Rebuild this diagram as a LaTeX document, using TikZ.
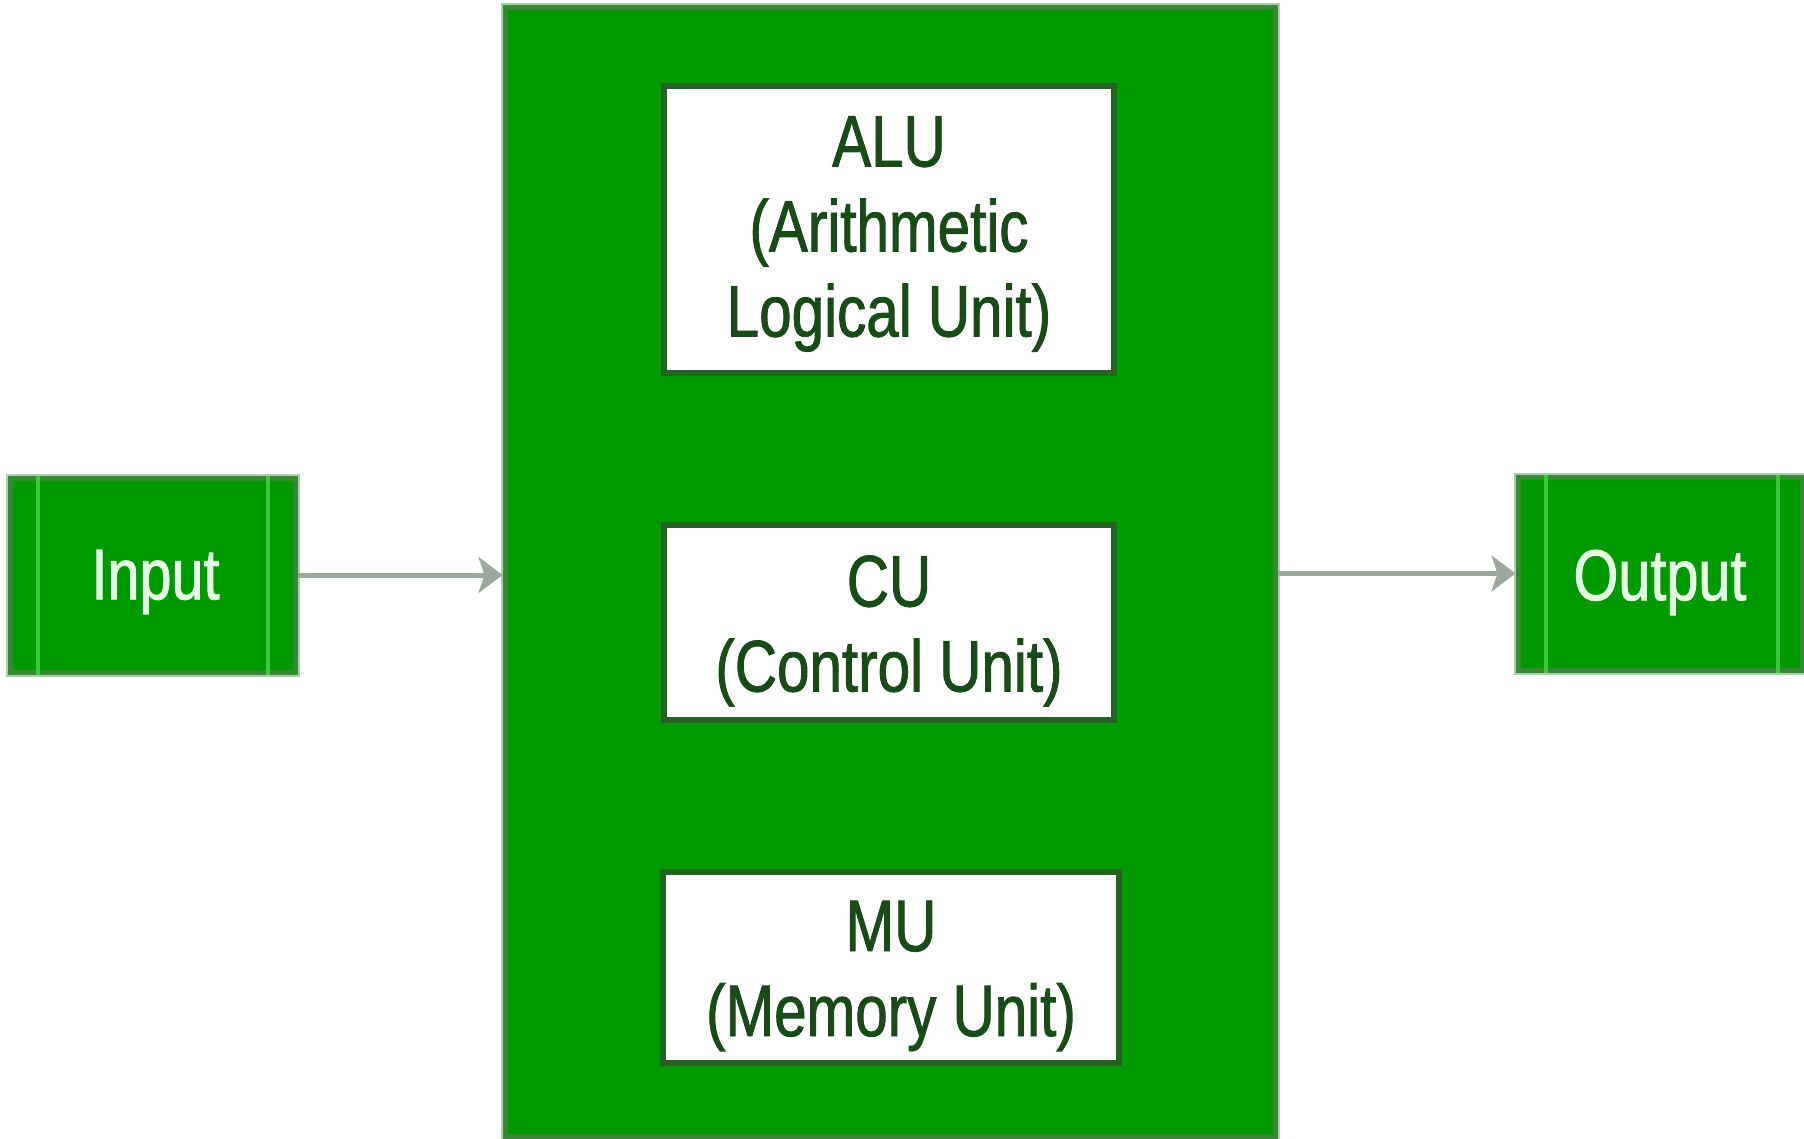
\documentclass[tikz,border=0pt]{standalone}
\usepackage{fontspec}
\newfontfamily\narrowsans[FakeStretch=0.8, FakeBold=1.2]{Liberation Sans}
\usetikzlibrary{arrows.meta}
\definecolor{cpugreen}{RGB}{0,153,0}
\definecolor{edgegreen}{RGB}{55,135,55}
\definecolor{halogreen}{RGB}{165,212,165}
\definecolor{darkedge}{RGB}{35,100,35}
\definecolor{sidegreen}{RGB}{60,200,60}
\definecolor{unittextcol}{RGB}{25,75,25}
\definecolor{iotextcol}{RGB}{228,255,228}
\definecolor{arrowgray}{RGB}{155,168,155}
\tikzset{
  cpubox/.style={rectangle, fill=cpugreen, draw=edgegreen, line width=5pt,
    preaction={draw=halogreen, line width=9pt}, inner sep=0pt},
  iobox/.style={rectangle, fill=cpugreen, draw=edgegreen, line width=5pt,
    preaction={draw=halogreen, line width=9pt}, inner sep=0pt},
  iotext/.style={inner sep=0pt, text=iotextcol, font=\narrowsans\fontsize{72}{84}\selectfont},
  unitbox/.style={rectangle, fill=white, draw=darkedge, line width=6pt, inner sep=0pt},
  unittext/.style={align=center, inner sep=0pt, text=unittextcol,
    font=\narrowsans\fontsize{73}{85}\selectfont},
  sideline/.style={draw=sidegreen, line width=4pt},
  flow/.style={draw=arrowgray, line width=5pt,
    -{Stealth[length=24pt, width=36pt, inset=6pt]}}
}
\begin{document}
\begin{tikzpicture}[x=1pt, y=-1pt]
  \useasboundingbox (0,0) rectangle (1804,1139);
  % main CPU box
  \node[cpubox, minimum width=770pt, minimum height=1128pt] (cpu) at (890,572) {};
  % inner units
  \node[unitbox, minimum width=450pt, minimum height=287pt] (alu) at (889,229.5) {};
  \node[unittext] (alut) at ([yshift=-4.5pt]alu.center) {ALU\\(Arithmetic\\Logical Unit)};
  \node[unitbox, minimum width=450pt, minimum height=195pt] (cu) at (889,622.5) {};
  \node[unittext] (cut) at ([yshift=-8.5pt]cu.center) {CU\\(Control Unit)};
  \node[unitbox, minimum width=456pt, minimum height=191pt] (mu) at (891,967.5) {};
  \node[unittext] (mut) at ([yshift=-8.5pt]mu.center) {MU\\(Memory Unit)};
  % input / output
  \node[iobox, minimum width=285pt, minimum height=194pt] (in) at (152.5,575) {};
  \node[iotext] (intext) at ([xshift=3pt, yshift=-7pt]in.center) {Input};
  \draw[sideline] ([xshift=30pt]in.north west) -- ([xshift=30pt]in.south west);
  \draw[sideline] ([xshift=-30pt]in.north east) -- ([xshift=-30pt]in.south east);
  \node[iobox, minimum width=284pt, minimum height=193pt] (out) at (1660,573.5) {};
  \node[iotext] (outtext) at ([yshift=-9pt]out.center) {Output};
  \draw[sideline] ([xshift=30pt]out.north west) -- ([xshift=30pt]out.south west);
  \draw[sideline] ([xshift=-27pt]out.north east) -- ([xshift=-27pt]out.south east);
  % connectors
  \draw[flow] (in.east) -- (in.east -| cpu.west);
  \draw[flow] (cpu.east |- out.west) -- (out.west);
\end{tikzpicture}
\end{document}
